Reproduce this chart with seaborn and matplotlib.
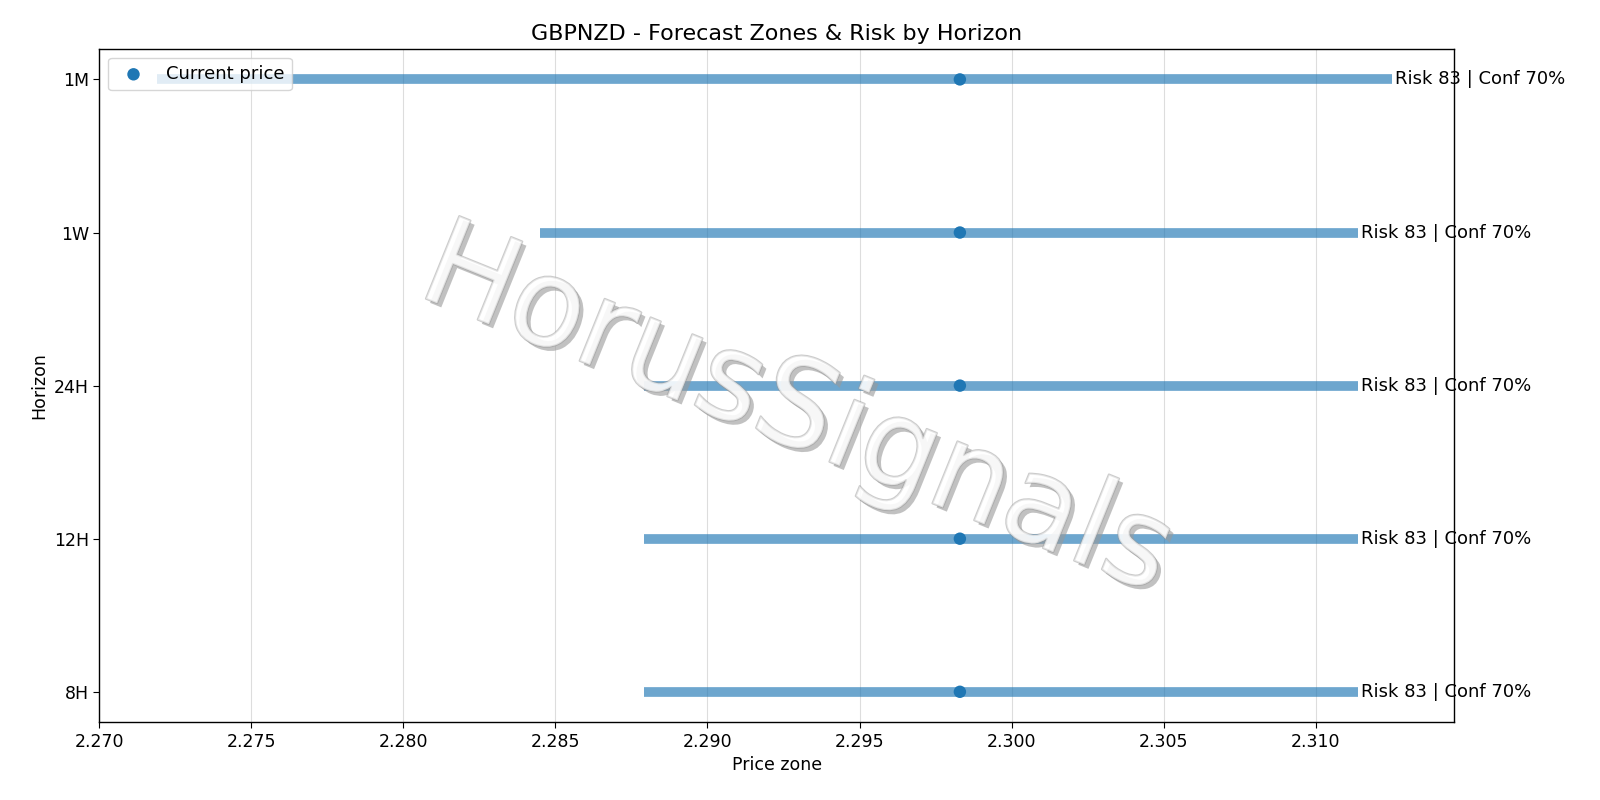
import matplotlib
matplotlib.use("Agg")
import matplotlib.pyplot as plt
import matplotlib.patheffects as pe
import seaborn as sns
import pandas as pd

horizons = ["8H", "12H", "24H", "1W", "1M"]
lows = [2.2879, 2.2879, 2.2879, 2.2845, 2.2719]
highs = [2.3114, 2.3114, 2.3114, 2.3114, 2.3125]
current = 2.2983
risk = [83, 83, 83, 83, 83]
conf = [70, 70, 70, 70, 70]

sns.set_style("white")
plt.rcParams["text.color"] = "black"
plt.rcParams["axes.labelcolor"] = "black"
plt.rcParams["xtick.color"] = "black"
plt.rcParams["ytick.color"] = "black"
fig, ax = plt.subplots(figsize=(16, 8), dpi=100)
df = pd.DataFrame({"h": horizons, "lo": lows, "hi": highs, "cur": [current]*5})
ypos = list(range(len(horizons)))
ax.hlines(ypos, df["lo"], df["hi"], color="#1f77b4", alpha=0.65, linewidth=7, zorder=2)
sns.scatterplot(x=df["cur"], y=ypos, ax=ax, color="#1f77b4", s=80, edgecolor="none",
                label="Current price", zorder=3)
for y, hi, r, c in zip(ypos, highs, risk, conf):
    ax.text(hi + 0.0001, y, f"Risk {r} | Conf {c}%", va="center", ha="left", fontsize=13)
ax.set_yticks(ypos)
ax.set_yticklabels(horizons, fontsize=12.5)
ax.set_xlim(2.2700, 2.31456)
ax.set_ylim(-0.2, 4.2)
ax.tick_params(axis="x", labelsize=12.5)
ax.tick_params(axis="both", length=4, width=0.8, bottom=True, left=True)
ax.xaxis.set_major_formatter(matplotlib.ticker.FormatStrFormatter("%.3f"))
ax.grid(axis="x", color="#dddddd", linewidth=0.8)
ax.set_axisbelow(True)
for s in ax.spines.values():
    s.set_color("black"); s.set_linewidth(1)
ax.set_xlabel("Price zone", fontsize=12.5)
ax.set_ylabel("Horizon", fontsize=12.5)
ax.set_title("GBPNZD - Forecast Zones & Risk by Horizon", fontsize=16)
ax.legend(loc="upper left", fontsize=13, frameon=True)
ax.text(0.515, 0.46, "HorusSignals", transform=ax.transAxes, fontsize=88, color="white",
        alpha=0.5, rotation=-22, ha="center", va="center", zorder=4,
        path_effects=[pe.withSimplePatchShadow(offset=(3, -3), shadow_rgbFace="#999999", alpha=0.6),
                      pe.Stroke(linewidth=1.5, foreground="#999999"), pe.Normal()])
fig.subplots_adjust(left=0.062, right=0.909, top=0.939, bottom=0.097)
fig.savefig("out.png")
